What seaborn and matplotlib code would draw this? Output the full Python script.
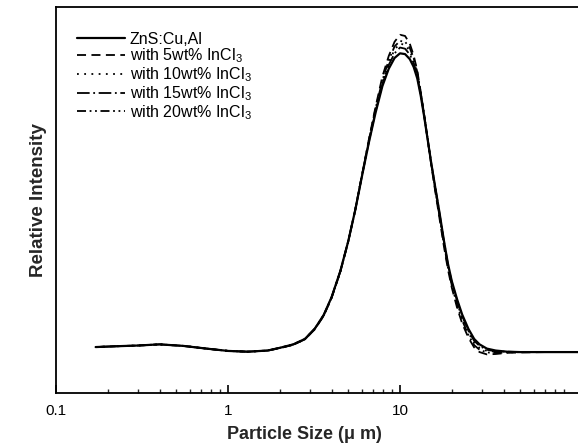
import numpy as np
import pandas as pd
import matplotlib
matplotlib.use("Agg")
import matplotlib.pyplot as plt
import seaborn as sns

# Particle size (um)
size_um = [0.17, 0.22, 0.3, 0.4, 0.55, 0.75, 1.0, 1.3, 1.7, 2.0, 2.4, 2.8, 3.2, 3.6,
           4.0, 4.5, 5.0, 5.5, 6.0, 6.6, 7.2, 7.9, 8.6, 9.3, 10.0, 10.7, 11.4, 12.0,
           12.6, 13.2, 13.8, 14.5, 15.2, 16.0, 17.0, 18.0, 19.0, 20.0, 21.5, 23.0,
           25.0, 27.0, 29.0, 32.0, 36.0, 42.0, 50.0, 70.0, 110.0]

y_base = [11.9, 12.1, 12.3, 12.6, 12.2, 11.5, 10.9, 10.7, 11.0, 11.7, 12.6, 14.0, 16.7, 20.2,
          24.8, 31.6, 39.3, 47.5, 56.0, 65.0, 72.5, 79.5, 84.0, 86.8, 88.0, 87.8, 86.5, 84.5,
          81.5, 77.0, 71.8, 65.5, 59.5, 53.5, 46.5, 39.5, 33.5, 29.0, 24.2, 20.3,
          16.6, 14.0, 12.6, 11.5, 11.0, 10.7, 10.6, 10.6, 10.6]
y_5wt = [11.9, 12.1, 12.3, 12.6, 12.2, 11.5, 10.9, 10.7, 11.0, 11.6, 12.5, 13.9, 16.5, 20.0,
         24.6, 31.4, 39.2, 47.6, 56.3, 65.8, 74.0, 82.0, 87.3, 91.0, 92.8, 92.5, 90.5, 87.5,
         83.5, 78.0, 72.3, 65.5, 59.0, 52.5, 45.0, 38.0, 32.0, 27.3, 22.0, 18.0,
         14.3, 11.8, 10.6, 10.0, 10.1, 10.4, 10.5, 10.6, 10.6]
y_10wt = [11.9, 12.1, 12.3, 12.6, 12.2, 11.5, 10.9, 10.7, 11.0, 11.7, 12.6, 14.0, 16.6, 20.1,
          24.7, 31.5, 39.3, 47.6, 56.2, 65.4, 73.2, 80.5, 85.5, 89.0, 90.5, 90.2, 88.6, 86.2,
          82.8, 77.8, 72.2, 65.8, 59.5, 53.2, 46.0, 39.0, 33.0, 28.3, 23.3, 19.4,
          15.6, 13.0, 11.7, 10.9, 10.7, 10.6, 10.6, 10.6, 10.6]
y_15wt = [11.9, 12.1, 12.3, 12.6, 12.2, 11.5, 10.9, 10.7, 11.0, 11.7, 12.6, 14.0, 16.7, 20.2,
          24.8, 31.6, 39.3, 47.5, 56.1, 65.2, 72.9, 80.0, 85.0, 88.0, 89.5, 89.2, 87.7, 85.5,
          82.2, 77.5, 72.0, 65.6, 59.5, 53.5, 46.3, 39.3, 33.3, 28.7, 23.8, 19.9,
          16.1, 13.5, 12.2, 11.2, 10.8, 10.7, 10.6, 10.6, 10.6]
y_20wt = [11.9, 12.1, 12.3, 12.6, 12.2, 11.5, 10.9, 10.7, 11.0, 11.7, 12.5, 13.9, 16.6, 20.1,
          24.7, 31.5, 39.3, 47.6, 56.3, 65.6, 73.6, 81.0, 86.2, 89.8, 91.2, 91.0, 89.4, 86.8,
          83.2, 77.8, 72.2, 65.7, 59.3, 52.9, 45.6, 38.6, 32.6, 27.9, 22.7, 18.8,
          15.0, 12.4, 11.2, 10.5, 10.4, 10.5, 10.6, 10.6, 10.6]

labels = ["ZnS:Cu,Al", "with 5wt% InCl$_3$", "with 10wt% InCl$_3$",
          "with 15wt% InCl$_3$", "with 20wt% InCl$_3$"]
series = [y_base, y_5wt, y_10wt, y_15wt, y_20wt]
styles = ["-", (0, (5, 3)), (0, (1, 3)), (0, (7, 2, 1, 2)), (0, (5, 2, 1, 2, 1, 2))]
widths = [1.6, 1.3, 1.3, 1.3, 1.3]

sns.set_theme(style="white")
plt.rcParams['font.family'] = ['Liberation Sans', 'DejaVu Sans']
plt.rcParams['mathtext.fontset'] = 'custom'
plt.rcParams['mathtext.rm'] = 'Liberation Sans'
plt.rcParams['mathtext.it'] = 'Liberation Sans:italic'
plt.rcParams['mathtext.bf'] = 'Liberation Sans:bold'

fig = plt.figure(figsize=(5.78, 4.46), dpi=100)
ax = fig.add_axes([56/578, 53/446, 522/578, 386/446])

for lab, ys, ls, lw in zip(labels, series, styles, widths):
    df = pd.DataFrame({"size": size_um, "I": ys})
    sns.lineplot(data=df, x="size", y="I", ax=ax, color="black", linestyle=ls,
                 linewidth=lw, label=lab)

ax.set_xscale("log")
ax.set_xlim(0.1, 10 ** ((578 - 228) / 172))
ax.set_ylim(0, 100)
ax.set_yticks([])
ax.set_xticks([0.1, 1, 10])
ax.set_xticklabels(["0.1", "1", "10"])
ax.tick_params(axis="x", which="major", direction="in", length=6, width=1.2,
               bottom=True, top=False, pad=8, labelsize=11, colors="black")
ax.tick_params(axis="x", which="minor", direction="in", length=3, width=1.0,
               bottom=True, top=False)
for s in ["top", "left", "bottom"]:
    ax.spines[s].set_color("black")
    ax.spines[s].set_linewidth(1.3)
ax.spines["right"].set_visible(False)

ax.set_xlabel("Particle Size ($\\mathbf{\\mu}$ m)", fontsize=13, fontweight="bold")
ax.set_ylabel("Relative Intensity", fontsize=13.5, fontweight="bold")
ax.xaxis.set_label_coords(0.475, -0.081)
ax.yaxis.set_label_coords(-0.018, 0.5)

leg = ax.legend(loc="upper left", bbox_to_anchor=(0.040, 0.936), frameon=False,
                fontsize=11.5, handlelength=3.0, handletextpad=0.31,
                labelspacing=0.0, borderpad=0, borderaxespad=0)
for t in leg.get_texts():
    t.set_color("black")

fig.savefig("out.png", dpi=100, facecolor="white")
